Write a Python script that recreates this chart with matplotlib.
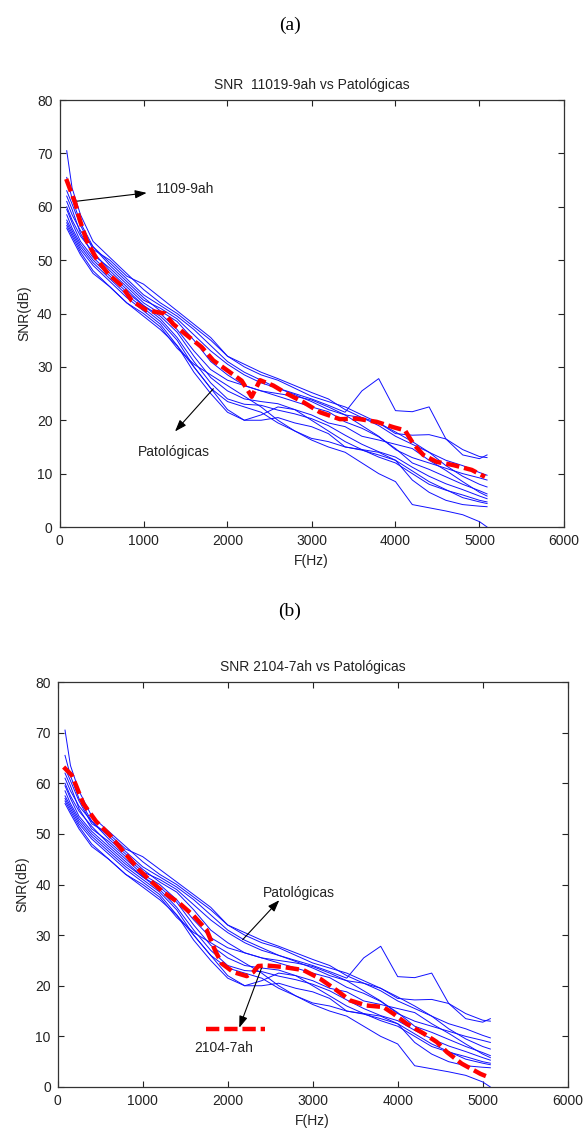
import matplotlib
matplotlib.use("Agg")
import matplotlib.pyplot as plt

# ---------------- data ----------------
freq = [86, 150, 250, 400, 600, 800, 1000, 1200, 1400, 1600, 1800, 2000, 2200, 2400,
        2600, 2800, 3000, 3200, 3400, 3600, 3800, 4000, 4200, 4400, 4600, 4800, 5000, 5090]

pat1 = [70.5, 63.5, 58.5, 53.5, 50.5, 47.5, 44.5, 42.0, 40.0, 37.5, 35.0, 32.0, 30.0, 28.5,
        27.5, 26.0, 24.5, 23.5, 22.5, 21.0, 19.5, 17.8, 16.0, 14.0, 11.5, 9.5, 8.0, 7.5]
pat2 = [65.5, 61.5, 57.0, 52.5, 49.5, 46.5, 43.5, 41.5, 39.5, 37.0, 34.0, 31.0, 29.0, 27.5,
        26.0, 25.0, 24.0, 22.8, 21.5, 25.5, 27.8, 21.8, 21.6, 22.5, 16.5, 13.5, 12.8, 13.5]
pat3 = [63.0, 60.5, 56.5, 52.0, 50.0, 47.0, 45.5, 43.0, 40.5, 38.0, 35.5, 32.0, 30.5, 29.0,
        27.8, 26.5, 25.2, 24.0, 22.0, 20.5, 19.5, 17.5, 17.2, 17.3, 16.5, 14.5, 13.2, 13.0]
pat4 = [62.0, 59.5, 55.0, 51.0, 48.5, 45.5, 42.5, 41.0, 39.0, 36.0, 33.0, 30.5, 28.5, 27.0,
        26.0, 24.8, 23.5, 22.0, 21.0, 20.5, 19.0, 17.0, 15.5, 14.0, 12.5, 11.5, 10.2, 9.7]
pat5 = [61.0, 58.5, 55.5, 52.5, 49.0, 46.0, 43.0, 40.5, 38.5, 35.0, 31.0, 28.5, 26.5, 25.5,
        25.0, 24.5, 23.8, 22.5, 21.0, 19.0, 17.0, 14.5, 13.0, 12.0, 11.0, 10.0, 9.2, 8.8]
pat6 = [60.0, 57.5, 54.5, 51.5, 48.0, 45.0, 42.0, 40.0, 37.0, 33.0, 29.5, 27.5, 26.5, 25.5,
        24.5, 23.5, 22.5, 21.6, 19.7, 18.5, 16.9, 14.7, 12.0, 10.8, 9.4, 8.0, 6.8, 6.2]
pat7 = [59.5, 57.0, 53.5, 50.5, 47.5, 44.5, 41.5, 39.5, 36.5, 32.0, 28.0, 25.5, 24.0, 23.5,
        23.1, 22.0, 21.0, 19.5, 18.8, 17.0, 16.3, 15.5, 14.7, 12.5, 10.6, 8.5, 6.5, 5.8]
pat8 = [58.5, 56.0, 53.0, 50.0, 47.0, 44.0, 41.5, 39.0, 35.5, 31.0, 27.0, 24.0, 23.0, 22.8,
        21.9, 21.2, 20.3, 19.0, 17.2, 15.5, 14.1, 13.1, 11.2, 9.5, 8.1, 7.0, 5.8, 5.3]
pat9 = [57.5, 55.5, 52.5, 49.5, 46.5, 43.5, 41.0, 38.5, 35.0, 30.0, 26.0, 22.0, 20.0, 21.0,
        22.5, 22.0, 20.0, 18.0, 16.0, 14.5, 13.1, 12.0, 10.0, 8.0, 6.9, 6.0, 5.0, 4.7]
pat10 = [57.0, 55.0, 52.0, 49.0, 46.0, 43.0, 40.5, 38.0, 34.0, 29.0, 25.0, 21.5, 20.0, 20.0,
         20.5, 19.5, 18.8, 17.5, 15.0, 14.4, 13.5, 12.5, 10.5, 8.5, 7.0, 5.5, 4.7, 4.4]
pat11 = [56.5, 54.5, 51.5, 48.0, 45.0, 42.0, 40.0, 37.5, 33.5, 30.5, 28.5, 26.5, 24.5, 22.5,
         20.0, 18.0, 16.6, 16.0, 15.0, 14.5, 14.0, 12.5, 8.8, 6.5, 5.0, 4.2, 3.9, 3.8]
pat12 = [56.0, 54.0, 51.0, 47.5, 45.0, 42.0, 39.5, 37.0, 34.0, 30.0, 26.0, 23.5, 22.5, 21.5,
         19.5, 18.0, 16.3, 15.0, 14.0, 12.0, 10.0, 8.5, 4.2, 3.6, 3.0, 2.3, 1.0, 0.0]
patologicas = [pat1, pat2, pat3, pat4, pat5, pat6, pat7, pat8, pat9, pat10, pat11, pat12]

ref_a_freq = [80, 185, 244, 324, 443, 581, 740, 860, 1038, 1256, 1355, 1494, 1693, 1831, 2010,
              2169, 2288, 2387, 2545, 2705, 2902, 3101, 3339, 3538, 3776, 3974, 4113, 4212,
              4331, 4490, 4688, 4907, 5065]
ref_a_snr = [65.2, 60.8, 57.4, 53.6, 50.2, 47.4, 45.2, 42.4, 40.6, 40.0, 38.0, 36.2, 33.7, 31.2,
             29.2, 27.4, 24.4, 27.5, 26.5, 25.0, 23.4, 21.5, 20.2, 20.3, 19.7, 18.7, 18.1, 15.6,
             13.5, 12.2, 11.6, 10.7, 9.4]

ref_b_freq = [70, 165, 215, 300, 450, 600, 800, 950, 1086, 1242, 1439, 1595, 1753, 1851, 1929,
              2066, 2224, 2301, 2360, 2459, 2654, 2889, 3086, 3282, 3439, 3635, 3831, 3948,
              4106, 4302, 4459, 4579, 4754, 4973, 5060]
ref_b_snr = [63.2, 61.6, 59.6, 56.0, 52.5, 50.0, 46.0, 43.0, 40.8, 38.5, 36.2, 33.9, 31.0, 27.0,
             24.4, 22.7, 21.9, 22.7, 23.9, 24.0, 23.7, 23.1, 21.4, 19.1, 17.1, 16.1, 15.8, 14.5,
             12.5, 10.6, 8.9, 6.9, 4.6, 2.6, 2.0]

legend_b_freq = [1745, 2440]
legend_b_snr = [11.5, 11.5]

titles = ["SNR  11019-9ah vs Patológicas", "SNR 2104-7ah vs Patológicas"]
panel_labels = ["(a)", "(b)"]
xticks = [0, 1000, 2000, 3000, 4000, 5000, 6000]
yticks = [0, 10, 20, 30, 40, 50, 60, 70, 80]

# ---------------- figure ----------------
W, H = 584, 1129
fig = plt.figure(figsize=(W / 100, H / 100), dpi=100)
fig.patch.set_facecolor("white")
plt.rcParams["font.family"] = ["Liberation Sans", "DejaVu Sans"]


def rect(l, t, r, b):
    return [l / W, 1 - b / H, (r - l) / W, (b - t) / H]


axes_px = [(59.5, 100, 563.5, 527), (57.7, 682, 567.7, 1087)]
label_y = [25, 611]

BLUE = "#1010ff"
RED = "#ff0000"


def style_axes(ax, title):
    ax.set_xlim(0, 6000)
    ax.set_ylim(0, 80)
    ax.set_xticks(xticks)
    ax.set_yticks(yticks)
    ax.tick_params(direction="in", length=4, width=0.8, top=True, right=True,
                   labelsize=10, pad=5, colors="#222222")
    for s in ax.spines.values():
        s.set_linewidth(0.9)
        s.set_color("#333333")
    ax.set_title(title, fontsize=10, pad=8, color="#222222")
    ax.set_xlabel("F(Hz)", fontsize=10, labelpad=4, color="#222222")
    ax.set_ylabel("SNR(dB)", fontsize=10, labelpad=4, color="#222222")


arrow_kw = dict(arrowstyle="-|>,head_length=0.7,head_width=0.25", color="black",
                lw=0.8, shrinkA=0, shrinkB=0, mutation_scale=10)

# panel (a)
ax = fig.add_axes(rect(*axes_px[0]))
for series in patologicas:
    ax.plot(freq, series, color=BLUE, lw=0.7)
ax.plot(ref_a_freq, ref_a_snr, color=RED, lw=3.2, dashes=(3.0, 1.1), zorder=5)
style_axes(ax, titles[0])
ax.annotate("", xy=(1038, 62.6), xytext=(185, 61.0), arrowprops=arrow_kw)
ax.text(1149, 63.3, "1109-9ah", fontsize=10, va="center", ha="left", color="#222222")
ax.annotate("", xy=(1375, 17.9), xytext=(1831, 25.9), arrowprops=arrow_kw)
ax.text(932, 14.1, "Patológicas", fontsize=10, va="center", ha="left", color="#222222")
fig.text(290 / W, 1 - label_y[0] / H, panel_labels[0], family=["Liberation Serif"],
         fontsize=14, ha="center", va="center")

# panel (b)
ax = fig.add_axes(rect(*axes_px[1]))
for series in patologicas:
    ax.plot(freq, series, color=BLUE, lw=0.7)
ax.plot(ref_b_freq, ref_b_snr, color=RED, lw=3.2, dashes=(3.0, 1.1), zorder=5)
ax.plot(legend_b_freq, legend_b_snr, color=RED, lw=3.2, dashes=(3.0, 1.1), zorder=5)
style_axes(ax, titles[1])
ax.annotate("", xy=(2607, 36.9), xytext=(2176, 29.1), arrowprops=arrow_kw)
ax.text(2419, 38.4, "Patológicas", fontsize=10, va="center", ha="left", color="#222222")
ax.annotate("", xy=(2136, 11.7), xytext=(2400, 23.6), arrowprops=arrow_kw)
ax.text(1607, 7.8, "2104-7ah", fontsize=10, va="center", ha="left", color="#222222")
fig.text(290 / W, 1 - label_y[1] / H, panel_labels[1], family=["Liberation Serif"],
         fontsize=14, ha="center", va="center")

fig.savefig("out.png", dpi=100, facecolor="white")
